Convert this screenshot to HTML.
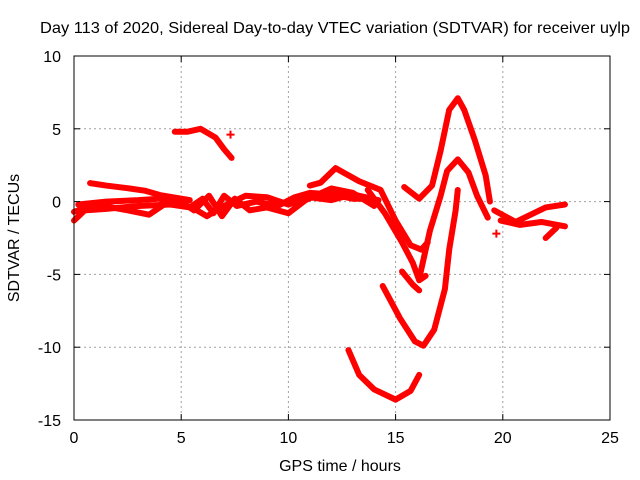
<!DOCTYPE html>
<html><head><meta charset="utf-8"><style>
body{margin:0;background:#fff}
svg{display:block;font-family:"Liberation Sans",sans-serif}
</style></head><body>
<svg id="chart" width="640" height="480" viewBox="0 0 640 480">
<rect width="640" height="480" fill="#fff"/>
<text x="335" y="33" font-size="16" text-anchor="middle" textLength="590" lengthAdjust="spacingAndGlyphs">Day 113 of 2020, Sidereal Day-to-day VTEC variation (SDTVAR) for receiver uylp</text>
<g id="grid"></g>
<g id="series"></g>
<rect x="74" y="56" width="536" height="364" fill="none" stroke="#000" stroke-width="1"/>
<g id="ticks"></g>
<text x="340" y="471" font-size="16" text-anchor="middle">GPS time / hours</text>
<text transform="translate(19,238) rotate(-90)" font-size="16" text-anchor="middle">SDTVAR / TECUs</text>
</svg>
<script>
const xTicks=[0,5,10,15,20,25];
const yTicks=[10,5,0,-5,-10,-15];
const trArcTop=[[4.7,4.8],[5.3,4.8],[5.9,5.0],[6.6,4.4],[7.0,3.6],[7.35,3.0]];
const trIsolated=[[7.3,4.6]];
const trUpperLeft=[[0.75,1.27],[1.5,1.1],[2.6,0.9],[3.3,0.75],[4.0,0.45],[5.4,0.1]];
const trBase1=[[0,-1.3],[0.5,-0.6],[1.5,-0.5],[3,-0.3],[4.5,-0.2],[5.4,-0.4],[6.0,0.2],[6.5,-0.8],[7.0,0.4],[7.6,-0.3],[8.5,0],[9.5,-0.3],[10.3,0.3],[11,0.6],[12,0.5],[13,0.2],[14,0.2]];
const trBase2=[[0,-0.7],[1,-0.2],[2.5,-0.6],[3.5,-0.9],[4.2,-0.2],[5.0,0.0],[5.6,-0.6],[6.3,0.4],[6.9,-1.0],[7.5,0.2],[8.2,-0.6],[9,-0.4],[10,-0.8],[10.8,0.1],[12,0.9],[13,0.6],[14,-0.3]];
const trBase3=[[0.2,-0.2],[1.5,0.0],[3,0.1],[4,0.2],[5.5,-0.4],[6.2,-1.0],[7,-0.3],[8,0.4],[9,0.3],[10,-0.2],[11,0.3],[12,0.1],[13,0.5],[14.2,0.1]];
const trRise12=[[11,1.1],[11.5,1.3],[12.2,2.3],[13.3,1.4],[14.3,0.8],[15,-1.3],[15.7,-3.0],[16.2,-3.3],[16.5,-2.8]];
const trPlunge1=[[13.7,0.8],[14.5,-0.8],[15.3,-2.8],[15.8,-4.2],[16.1,-5.4],[16.4,-5.1]];
const trPlunge2=[[15.3,-4.8],[15.8,-5.7],[16.1,-6.1]];
const trDip=[[14.4,-5.8],[15.2,-8.0],[15.9,-9.6],[16.3,-9.9],[16.8,-8.8],[17.3,-6.0],[17.5,-3.3],[17.8,-0.6],[17.9,0.8]];
const trBottom=[[12.8,-10.2],[13.3,-11.9],[14.0,-12.9],[15.0,-13.6],[15.7,-13.0],[16.1,-11.9]];
const trPeak=[[15.4,1.0],[16.1,0.2],[16.7,1.1],[17.1,3.5],[17.5,6.3],[17.9,7.1],[18.2,6.3],[18.7,4.2],[19.2,1.8],[19.4,0.0]];
const trPeak2=[[16.1,-5.3],[16.6,-2.0],[17.1,0.4],[17.4,2.1],[17.9,2.9],[18.4,2.0],[18.8,0.4],[19.3,-1.1]];
const trRight1=[[19.6,-0.6],[20.6,-1.4],[21.3,-0.9],[22.0,-0.4],[22.9,-0.2]];
const trRight2=[[19.9,-1.3],[20.8,-1.6],[21.8,-1.4],[22.9,-1.7]];
const trRight3=[[22.0,-2.5],[22.5,-1.8]];
const trRightDot=[[19.7,-2.2]];
const allTraces=[trArcTop,trIsolated,trUpperLeft,trBase1,trBase2,trBase3,trRise12,trPlunge1,trPlunge2,trDip,trBottom,trPeak,trPeak2,trRight1,trRight2,trRight3,trRightDot];
const NS='http://www.w3.org/2000/svg';
const X=t=>74+t*536/25;
const Y=v=>56+(10-v)*364/25;
const grid=document.getElementById('grid'),ticks=document.getElementById('ticks'),ser=document.getElementById('series');
function mk(tag,attrs,parent){const e=document.createElementNS(NS,tag);for(const k in attrs)e.setAttribute(k,attrs[k]);parent.appendChild(e);return e;}
xTicks.forEach(t=>{
  if(t>0&&t<25){const g=mk('line',{x1:X(t),x2:X(t),y1:56,y2:420,stroke:'#a0a0a0','stroke-dasharray':'2,3'},grid);
  
  }
  const tk=mk('line',{x1:X(t),x2:X(t),y1:420,y2:414,stroke:'#000'},ticks);
  
  
  const tk2=mk('line',{x1:X(t),x2:X(t),y1:56,y2:62,stroke:'#000'},ticks);
  
  
  const l=mk('text',{x:X(t),y:443,'font-size':16,'text-anchor':'middle'},ticks);l.textContent=t;
  
  
});
yTicks.forEach(v=>{
  if(v<10&&v>-15){const g=mk('line',{x1:74,x2:610,y1:Y(v),y2:Y(v),stroke:'#a0a0a0','stroke-dasharray':'2,3'},grid);
  
  }
  const tk=mk('line',{x1:74,x2:80,y1:Y(v),y2:Y(v),stroke:'#000'},ticks);
  
  
  const tk2=mk('line',{x1:604,x2:610,y1:Y(v),y2:Y(v),stroke:'#000'},ticks);
  
  
  const l=mk('text',{x:61,y:Y(v)+6,'font-size':16,'text-anchor':'end'},ticks);l.textContent=v;
  
  
});
allTraces.forEach(tr=>{
  if(tr.length===1){
    const [t,v]=tr[0];
    const p=mk('path',{d:`M${X(t)-4},${Y(v)}h8M${X(t)},${Y(v)-4}v8`,stroke:'#f00','stroke-width':2,fill:'none'},ser);
    
    
  } else {
    const p=mk('polyline',{points:tr.map(([t,v])=>X(t)+','+Y(v)).join(' '),stroke:'#f00','stroke-width':6,fill:'none','stroke-linejoin':'round','stroke-linecap':'round'},ser);
    
    
  }
});
</script>
</body></html>
